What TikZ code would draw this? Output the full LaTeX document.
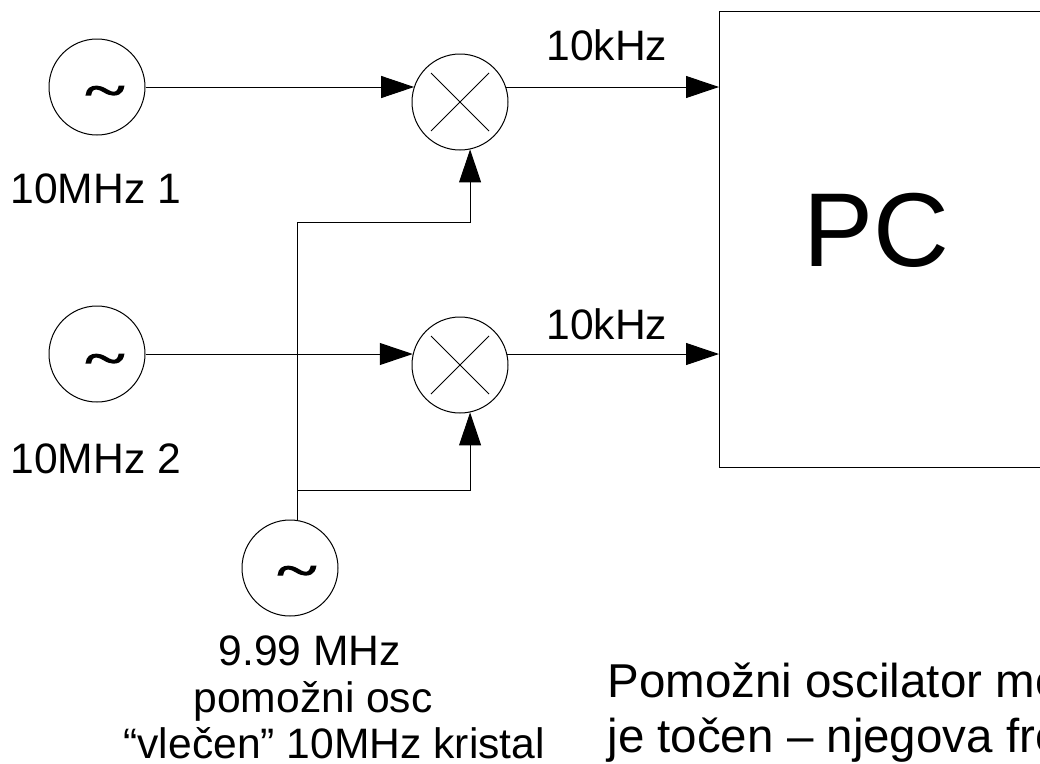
\documentclass[tikz,border=0pt]{standalone}
\usepackage{graphicx}
\usepackage{fontspec}
\setmainfont{Liberation Sans}
\newfontfamily\wavefont[RawFeature={embolden=2.5}]{Liberation Serif}
\newcommand{\wavesign}{\scalebox{0.95}[0.65]{\textasciitilde}}
\usetikzlibrary{arrows.meta,positioning,calc}

\begin{document}
\begin{tikzpicture}[
    x=1pt,
    y=-1pt,
    line width=1pt,
    osc/.style={
        draw=black,
        circle,
        inner sep=0pt,
        minimum size=96pt
    },
    mixer/.style={
        osc,
        path picture={
            \draw ([shift={(-29pt,-29pt)}]path picture bounding box.center) -- ([shift={(29pt,29pt)}]path picture bounding box.center);
            \draw ([shift={(-29pt,29pt)}]path picture bounding box.center) -- ([shift={(29pt,-29pt)}]path picture bounding box.center);
        }
    },
    pcbox/.style={
        draw=black,
        anchor=north west,
        inner sep=0pt,
        minimum width=420pt,
        minimum height=456pt
    },
    lbl/.style={
        anchor=base west,
        inner sep=0pt,
        font=\fontsize{42.6}{42.6}\selectfont
    },
    note/.style={
        anchor=base west,
        inner sep=0pt,
        font=\fontsize{47.5}{47.5}\selectfont
    },
    wave/.style={
        inner sep=0pt,
        font=\wavefont\fontsize{80}{80}\selectfont
    },
    arr/.style={-{Triangle[length=33pt,width=22pt]}}
]
\clip (0,0) rectangle (1040,763);

% oscillators
\node[osc] (osc1) at (97,87) {};
\node[osc] (osc2) at (97,354) {};
\node[osc] (osc3) at (290,568) {};
\node[wave] (wave1) at (105,97) {\wavesign};
\node[wave] (wave2) at (105,365) {\wavesign};
\node[wave] (wave3) at (297,577) {\wavesign};

% mixers and the PC
\node[mixer] (mix1) at (460,102) {};
\node[mixer] (mix2) at (460,365) {};
\node[pcbox] (pc) at (719,11) {};
\node[anchor=base west,inner sep=0pt,font=\fontsize{105}{105}\selectfont] (pclabel) at (803,266) {PC};

% labels
\node[lbl] (name1) at (10,203) {10MHz 1};
\node[lbl] (name2) at (10,473) {10MHz 2};
\node[lbl] (freq1) at (546,60) {10kHz};
\node[lbl] (freq2) at (546,339) {10kHz};
\node[lbl] (name3a) at (218,665) {9.99 MHz};
\node[lbl] (name3b) at (193,712) {pomožni osc};
\node[lbl] (name3c) at (123,758) {“vlečen” 10MHz kristal};
\node[note] (note1) at (607,697) {Pomožni oscilator mo};
\node[note] (note2) at (607,752) {je točen – njegova fre};

% signal paths
\coordinate (bus1) at (297,222);
\coordinate (bus2) at (297,490);
\draw[arr] (osc1.east) -- (osc1.east -| mix1.161);
\draw[arr] (osc2.east) -- (osc2.east -| mix2.167);
\draw[arr] (osc1.east -| mix1.19) -- (osc1.east -| pc.west);
\draw[arr] (osc2.east -| mix2.13) -- (osc2.east -| pc.west);
\draw (bus2 |- osc3.82) -- (bus2);
\draw (bus2) -- (bus1);
\draw[arr] (bus1) -| (mix1.282);
\draw[arr] (bus2) -| (mix2.282);

\end{tikzpicture}
\end{document}
